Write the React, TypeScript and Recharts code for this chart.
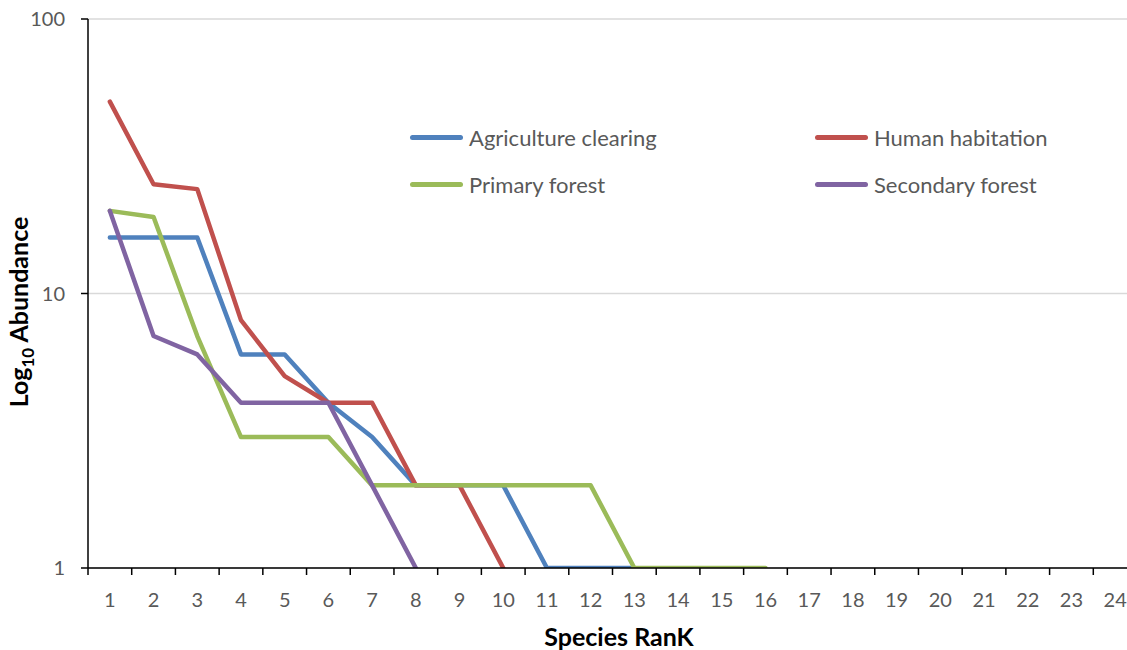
import React from 'react'
import { ComposedChart, Line, XAxis, YAxis, CartesianGrid } from 'recharts'

const ranks = [1, 2, 3, 4, 5, 6, 7, 8, 9, 10, 11, 12, 13, 14, 15, 16, 17, 18, 19, 20, 21, 22, 23, 24]
const agricultureClearing = [16, 16, 16, 6, 6, 4, 3, 2, 2, 2, 1, 1, 1]
const humanHabitation = [50, 25, 24, 8, 5, 4, 4, 2, 2, 1]
const primaryForest = [20, 19, 7, 3, 3, 3, 2, 2, 2, 2, 2, 2, 1, 1, 1, 1]
const secondaryForest = [20, 7, 6, 4, 4, 4, 2, 1]
const yTicks = [1, 10, 100]

const series = [
  { key: 'agri', name: 'Agriculture clearing', values: agricultureClearing, color: '#4F81BD' },
  { key: 'human', name: 'Human habitation', values: humanHabitation, color: '#C0504D' },
  { key: 'primary', name: 'Primary forest', values: primaryForest, color: '#9BBB59' },
  { key: 'secondary', name: 'Secondary forest', values: secondaryForest, color: '#8064A2' },
]

const data = ranks.map((rank, i) => {
  const row: Record<string, number | null> = { rank }
  series.forEach((s) => {
    row[s.key] = i < s.values.length ? s.values[i] : null
  })
  return row
})

const FONT = 'Lato, "Noto Sans", sans-serif'
const TEXT = '#595959'
const STEP = 43.7

function XTick(props: any) {
  const { x, y, payload } = props
  const last = payload.value === ranks[ranks.length - 1]
  return (
    <g>
      <line x1={x - STEP / 2} x2={x - STEP / 2} y1={y - 8} y2={y - 1} stroke="#000" strokeWidth={1.5} />
      {last && <line x1={x + STEP / 2} x2={x + STEP / 2} y1={y - 8} y2={y - 1} stroke="#000" strokeWidth={1.5} />}
      <text x={x} y={y + 31} textAnchor="middle" fill={TEXT} fontSize={20} fontFamily={FONT}>
        {payload.value}
      </text>
    </g>
  )
}

export default function App() {
  return (
    <div style={{ position: 'fixed', left: 0, top: 0, width: 1127, height: 650, overflow: 'hidden', background: '#fff' }}>
      <ComposedChart
        width={1140}
        height={650}
        data={data}
        margin={{ top: 19, right: 3, bottom: 0, left: 0 }}
      >
        <CartesianGrid vertical={false} stroke="#D9D9D9" strokeWidth={1.5} />
        <XAxis
          dataKey="rank"
          type="number"
          domain={[0.5, 24.5]}
          ticks={ranks}
          interval={0}
          height={82}
          stroke="#000"
          strokeWidth={1.5}
          tickLine={false}
          tick={<XTick />}
          label={{
            content: () => (
              <text x={619} y={646} textAnchor="middle" fontSize={25} fontWeight="bold" fontFamily={FONT} fill="#000">
                Species RanK
              </text>
            ),
          }}
        />
        <YAxis
          scale="log"
          domain={[1, 100]}
          ticks={yTicks}
          allowDataOverflow
          width={88}
          stroke="#000"
          strokeWidth={1.5}
          tickSize={7}
          tickMargin={16}
          tickLine={{ stroke: '#000', strokeWidth: 1.5 }}
          tick={{ fill: TEXT, fontSize: 20, fontFamily: FONT }}
          label={{
            content: () => (
              <text
                x={28}
                y={312}
                transform="rotate(-90 28 312)"
                textAnchor="middle"
                fontSize={25}
                fontWeight="bold"
                fontFamily={FONT}
                fill="#000"
              >
                Log
                <tspan fontSize={17} dy={6}>10</tspan>
                <tspan dy={-6}> Abundance</tspan>
              </text>
            ),
          }}
        />
        {series.map((s) => (
          <Line
            key={s.key}
            dataKey={s.key}
            name={s.name}
            stroke={s.color}
            strokeWidth={4.5}
            strokeLinecap="round"
            strokeLinejoin="round"
            dot={false}
            activeDot={false}
            isAnimationActive={false}
          />
        ))}
      </ComposedChart>
      {series.map((s, i) => {
        const left = i % 2 === 0 ? 410 : 815
        const top = i < 2 ? 137 : 184
        return (
          <div key={s.key} style={{ position: 'absolute', left, top: top - 15, height: 30, display: 'flex', alignItems: 'center' }}>
            <div style={{ width: 53, height: 5, borderRadius: 3, background: s.color }} />
            <span style={{ marginLeft: 6, fontSize: 22, fontFamily: FONT, color: TEXT, whiteSpace: 'nowrap' }}>{s.name}</span>
          </div>
        )
      })}
    </div>
  )
}
